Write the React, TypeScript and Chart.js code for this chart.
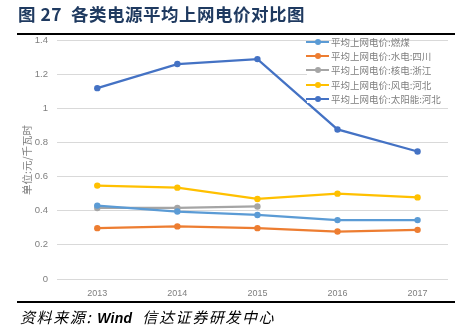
import React, { useEffect, useRef } from "react";
import { Chart, registerables } from "chart.js";

Chart.register(...registerables);

const years = ["2013", "2014", "2015", "2016", "2017"];
const seriesNames = [
  "平均上网电价:燃煤",
  "平均上网电价:水电:四川",
  "平均上网电价:核电:浙江",
  "平均上网电价:风电:河北",
  "平均上网电价:太阳能:河北",
];
const coal = [0.43, 0.395, 0.375, 0.345, 0.345];
const hydroSichuan = [0.298, 0.308, 0.298, 0.278, 0.288];
const nuclearZhejiang = [0.416, 0.416, 0.425, null, null];
const windHebei = [0.547, 0.535, 0.469, 0.5, 0.478];
const solarHebei = [1.118, 1.259, 1.288, 0.876, 0.747];
const seriesColors = ["#5B9BD5", "#ED7D31", "#A5A5A5", "#FFC000", "#4472C4"];
const yTicks = [0, 0.2, 0.4, 0.6, 0.8, 1, 1.2, 1.4];

const titleText = "图 27  各类电源平均上网电价对比图";
const yAxisTitle = "单位:元/千瓦时";
const sourceLabel = "资料来源: ";
const sourceWind = "Wind";
const sourceRest = "  信达证券研发中心";

export default function App() {
  const ref = useRef<HTMLCanvasElement | null>(null);

  useEffect(() => {
    const all = [coal, hydroSichuan, nuclearZhejiang, windHebei, solarHebei];
    const chart = new Chart(ref.current!, {
      type: "line",
      data: {
        datasets: all.map((d, i) => ({
          label: seriesNames[i],
          data: d.map((v, k) => ({ x: k, y: v })),
          borderColor: seriesColors[i],
          backgroundColor: seriesColors[i],
          borderWidth: 2.25,
          pointRadius: 3.2,
          pointBorderWidth: 0,
          tension: 0,
          spanGaps: false,
        })),
      },
      options: {
        responsive: false,
        animation: false,
        devicePixelRatio: 1,
        layout: { padding: { top: 40, right: 10, left: 0, bottom: 0 } },
        plugins: { legend: { display: false }, tooltip: { enabled: false } },
        scales: {
          x: {
            type: "linear",
            min: -0.503,
            max: 4.38,
            afterBuildTicks: (s: any) => {
              s.ticks = years.map((_, k) => ({ value: k }));
            },
            grid: { display: false, drawTicks: false },
            border: { display: false },
            ticks: {
              color: "#7F7F7F",
              font: { family: "Liberation Sans", size: 9 },
              padding: 9,
              callback: (v: any) => years[Math.round(Number(v))] ?? "",
            },
            afterFit: (s: any) => {
              s.height = 53;
            },
          },
          y: {
            min: 0,
            max: 1.4,
            afterBuildTicks: (s: any) => {
              s.ticks = yTicks.map((v) => ({ value: v }));
            },
            grid: { color: "#D9D9D9", lineWidth: 1, drawTicks: false },
            border: { display: false },
            ticks: {
              color: "#7F7F7F",
              font: { family: "Liberation Sans", size: 9.5 },
              padding: 9,
              callback: (v: any) => String(Math.round(Number(v) * 10) / 10),
            },
            afterFit: (s: any) => {
              s.width = 57;
            },
          },
        },
      },
    });
    return () => chart.destroy();
  }, []);

  return (
    <div
      style={{
        position: "absolute",
        left: 0,
        top: 0,
        width: 458,
        height: 332,
        background: "#fff",
        overflow: "hidden",
        fontFamily: "'Noto Sans CJK SC', sans-serif",
      }}
    >
      <canvas
        ref={ref}
        width={458}
        height={332}
        style={{ position: "absolute", left: 0, top: 0, width: 458, height: 332 }}
      />
      <div
        style={{
          position: "absolute",
          left: 18,
          top: 2,
          fontSize: 17.5,
          fontWeight: 700,
          color: "#1F3A60",
          whiteSpace: "pre",
          lineHeight: "24px",
          letterSpacing: 0.5,
        }}
      >
        {titleText}
      </div>
      <div style={{ position: "absolute", left: 17, top: 33, width: 438, height: 2, background: "#000" }} />
      <div style={{ position: "absolute", left: 17, top: 301, width: 438, height: 2, background: "#000" }} />
      <div
        style={{
          position: "absolute",
          left: 27,
          top: 160,
          transform: "translate(-50%, -50%) rotate(-90deg)",
          fontSize: 10.5,
          color: "#7F7F7F",
          whiteSpace: "nowrap",
          lineHeight: "12px",
        }}
      >
        {yAxisTitle}
      </div>
      <div
        style={{
          position: "absolute",
          left: 307,
          top: 46,
          width: 143,
          height: 57,
          background: "#fff",
        }}
      />
      {seriesNames.map((name, i) => (
        <div
          key={name}
          style={{
            position: "absolute",
            left: 306,
            top: 35 + i * 14.2,
            height: 14,
            display: "flex",
            alignItems: "center",
            whiteSpace: "nowrap",
          }}
        >
          <div style={{ position: "relative", width: 23, height: 14, marginRight: 2 }}>
            <div
              style={{
                position: "absolute",
                left: 0,
                top: 6,
                width: 23,
                height: 2,
                background: seriesColors[i],
              }}
            />
            <div
              style={{
                position: "absolute",
                left: 9,
                top: 4,
                width: 6,
                height: 6,
                borderRadius: 3,
                background: seriesColors[i],
              }}
            />
          </div>
          <span style={{ fontSize: 9.5, color: "#7F7F7F", lineHeight: "14px" }}>{name}</span>
        </div>
      ))}
      <div
        style={{
          position: "absolute",
          left: 20,
          top: 307,
          fontSize: 15,
          fontStyle: "italic",
          color: "#000",
          whiteSpace: "pre",
          lineHeight: "20px",
          letterSpacing: 1.6,
        }}
      >
        {sourceLabel}
        <span
          style={{
            fontFamily: "'Liberation Sans', sans-serif",
            fontWeight: 700,
            fontStyle: "italic",
            fontSize: 14,
            letterSpacing: 0.3,
          }}
        >
          {sourceWind}
        </span>
        {sourceRest}
      </div>
    </div>
  );
}
